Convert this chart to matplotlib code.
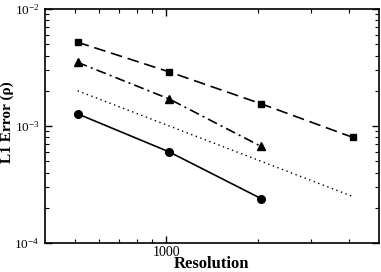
import matplotlib
matplotlib.use("Agg")
import matplotlib.pyplot as plt
from matplotlib.ticker import LogLocator, FixedLocator, NullFormatter, FixedFormatter

plt.rcParams["font.family"] = ["Liberation Serif", "DejaVu Serif"]
plt.rcParams["mathtext.fontset"] = "custom"
plt.rcParams["mathtext.rm"] = "Liberation Serif"
plt.rcParams["mathtext.it"] = "Liberation Serif:italic"
plt.rcParams["mathtext.bf"] = "Liberation Serif:bold"

# data
res_sq = [512, 1024, 2048, 4096]
err_sq = [5.2e-3, 2.9e-3, 1.55e-3, 8.0e-4]

res_tri = [512, 1024, 2048]
err_tri = [3.5e-3, 1.7e-3, 6.7e-4]

res_ref = [512, 4096]
err_ref = [2.0e-3, 2.5e-4]

res_circ = [512, 1024, 2048]
err_circ = [1.27e-3, 6.0e-4, 2.4e-4]

fig = plt.figure(figsize=(3.81, 2.72), dpi=100)
ax = fig.add_axes([45 / 381, 1 - 243 / 272, 334 / 381, 234 / 272])

lw = 1.2
ax.plot(res_sq, err_sq, color="black", lw=lw, ls=(0, (7, 3.5)), marker="s", ms=5)
ax.plot(res_tri, err_tri, color="black", lw=lw, ls=(0, (6, 2.5, 1.2, 2.5)), marker="^", ms=5.5)
ax.plot(res_ref, err_ref, color="black", lw=1.0, ls=(0, (1, 2.5)))
ax.plot(res_circ, err_circ, color="black", lw=lw, ls="-", marker="o", ms=5.5)

ax.set_xscale("log")
ax.set_yscale("log")
ax.set_xlim(400, 5000)
ax.set_ylim(1e-4, 1e-2)

ax.xaxis.set_major_locator(FixedLocator([1000]))
ax.xaxis.set_major_formatter(FixedFormatter(["1000"]))
ax.xaxis.set_minor_locator(FixedLocator([500, 600, 700, 800, 900, 2000, 3000, 4000]))
ax.xaxis.set_minor_formatter(NullFormatter())

ax.yaxis.set_major_locator(LogLocator(base=10, numticks=5))
ax.yaxis.set_minor_locator(LogLocator(base=10, subs=range(2, 10), numticks=20))
ax.yaxis.set_minor_formatter(NullFormatter())

ax.tick_params(which="both", direction="in", top=True, right=True, color="black")
ax.tick_params(which="major", length=5, width=1)
ax.tick_params(which="minor", length=3, width=0.8)
ax.tick_params(axis="x", labelsize=10, pad=2)
ax.tick_params(axis="y", labelsize=9.5, pad=4)
for s in ax.spines.values():
    s.set_linewidth(1.2)

ax.set_xlabel("Resolution", fontsize=12, fontweight="bold")
ax.xaxis.set_label_coords(0.5, -(256 - 243) / 234)
ax.set_ylabel("L1 Error (ρ)", fontsize=11, fontweight="bold")
ax.yaxis.set_label_coords(-(45 - 14) / 334, (243 - 122) / 234)

fig.savefig("out.png", dpi=100)
